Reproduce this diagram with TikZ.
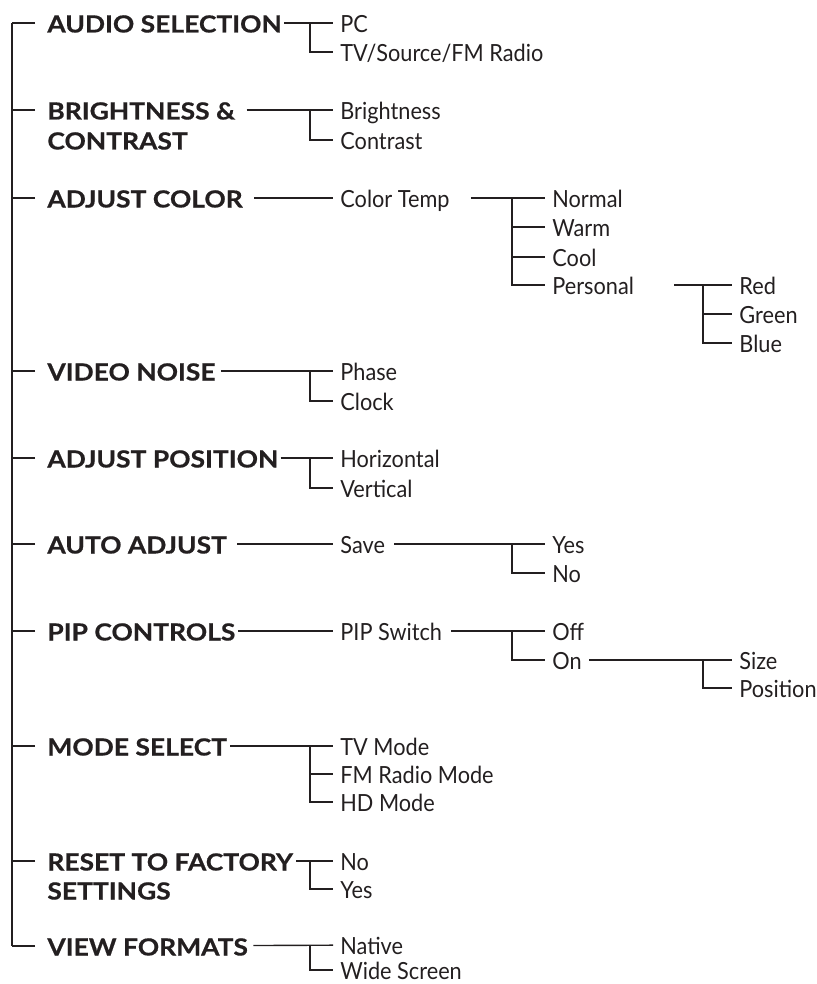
\documentclass[tikz,border=0pt]{standalone}
\usepackage{fontspec}
\setmainfont{Lato}[FakeStretch=0.92]
\newfontfamily\headfont{Lato}[FakeStretch=1.12,FakeBold=0.6]
\definecolor{ink}{HTML}{231F20}
\begin{document}
\begin{tikzpicture}[x=0.5pt,y=-0.5pt,
    every node/.style={font=\fontsize{11.8}{15}\selectfont,text=ink,anchor=west,
      text height=9.5pt,text depth=0pt},
    head/.style={inner sep=0pt,font=\fontsize{11.8}{15}\selectfont\headfont\bfseries},
    item/.style={inner ysep=0pt,inner xsep=3.5pt},
    ln/.style={ink,line width=0.7pt}]
  \useasboundingbox (0,0) rectangle (817,984);
  \coordinate (spine) at (12,0);
  \coordinate (j1) at (310,0);
  \coordinate (j2) at (512,0);
  \coordinate (j3) at (703,0);
  % main menu
  \foreach \n/\y/\t in {aud/23/AUDIO SELECTION, brt/110/BRIGHTNESS \&, con/140/CONTRAST,
      col/198/ADJUST COLOR, vid/371/VIDEO NOISE, pos/458/ADJUST POSITION,
      aut/544/AUTO ADJUST, pip/631/PIP CONTROLS, mod/746/MODE SELECT,
      rst/861/RESET TO FACTORY, rset/890/SETTINGS, vfm/946/VIEW FORMATS}
    \node[head] (\n) at (47,\y) {\t};
  \draw[ln] (spine |- aud) -- (spine |- vfm);
  \foreach \n in {aud,brt,col,vid,pos,aut,pip,mod,rst,vfm}
    \draw[ln,shorten <=6pt] (\n) -- (spine |- \n);
  % first level
  \foreach \n/\y/\t in {pc/23/PC, tvs/52/{TV/Source/FM Radio}, bri/110/Brightness,
      ctr/140/Contrast, ct/198/Color Temp, pha/371/Phase, clk/401/Clock,
      hor/458/Horizontal, ver/488/Vertical, sav/544/Save, psw/631/PIP Switch,
      tvm/746/TV Mode, fmm/774/FM Radio Mode, hdm/802/HD Mode,
      rno/861/No, ryes/889/Yes, nat/945/Native, wide/970/Wide Screen}
    \node[item] (\n) at (333,\y) {\t};
  % second level
  \foreach \n/\y/\t in {nrm/198/Normal, wrm/227/Warm, cool/257/Cool, pers/285/Personal,
      yes/544/Yes, no/573/No, swoff/631/Off, swon/660/On}
    \node[item] (\n) at (545,\y) {\t};
  % third level
  \foreach \n/\y/\t in {red/285/Red, grn/314/Green, blu/343/Blue,
      size/660/Size, psn/688/Position}
    \node[item] (\n) at (732,\y) {\t};
  % lines out of the parents
  \foreach \a/\b/\g in {aud/pc/1, brt/bri/5.5, col/ct/5.5, vid/pha/2.5, pos/hor/1,
      aut/sav/5, pip/psw/1, mod/tvm/1.5, rst/rno/1.5, vfm/nat/2.5,
      ct/nrm/7, pers/red/16.5, sav/yes/1, psw/swoff/1, swon/size/0}
    \draw[ln,shorten <=\g pt] (\a) -- (\b);
  % the forks
  \foreach \j/\a/\b in {j1/pc/tvs, j1/bri/ctr, j1/pha/clk, j1/hor/ver, j1/tvm/hdm,
      j1/rno/ryes, j1/nat/wide, j2/nrm/pers, j3/red/blu, j2/yes/no,
      j2/swoff/swon, j3/size/psn}
    \draw[ln] (\j |- \a) |- (\b);
  \foreach \j/\a in {j1/fmm, j2/wrm, j2/cool, j3/grn}
    \draw[ln] (\j |- \a) -- (\a);
\end{tikzpicture}
\end{document}
